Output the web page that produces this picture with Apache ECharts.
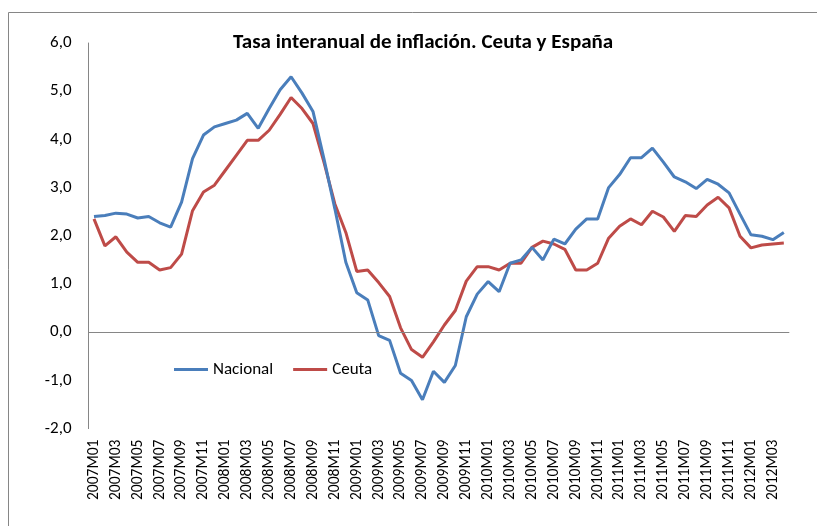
<!DOCTYPE html>
<html>
<head>
<meta charset="utf-8">
<script src="https://cdn.jsdelivr.net/npm/echarts@6/dist/echarts.min.js"></script>
<style>
  html, body { margin: 0; padding: 0; background: #fff; }
  #chart { width: 817px; height: 526px; }
</style>
</head>
<body>
<div id="chart"></div>
<script>
// ========================================
// DATA
// ========================================

var months = [
  '2007M01', '2007M02', '2007M03', '2007M04', '2007M05', '2007M06', '2007M07', '2007M08', '2007M09', '2007M10', '2007M11', '2007M12',
  '2008M01', '2008M02', '2008M03', '2008M04', '2008M05', '2008M06', '2008M07', '2008M08', '2008M09', '2008M10', '2008M11', '2008M12',
  '2009M01', '2009M02', '2009M03', '2009M04', '2009M05', '2009M06', '2009M07', '2009M08', '2009M09', '2009M10', '2009M11', '2009M12',
  '2010M01', '2010M02', '2010M03', '2010M04', '2010M05', '2010M06', '2010M07', '2010M08', '2010M09', '2010M10', '2010M11', '2010M12',
  '2011M01', '2011M02', '2011M03', '2011M04', '2011M05', '2011M06', '2011M07', '2011M08', '2011M09', '2011M10', '2011M11', '2011M12',
  '2012M01', '2012M02', '2012M03', '2012M04'
];

var nacional = [
  2.40, 2.42, 2.47, 2.45, 2.37, 2.40, 2.27, 2.18, 2.70, 3.60, 4.09, 4.26,
  4.33, 4.40, 4.54, 4.23, 4.64, 5.03, 5.30, 4.96, 4.58, 3.60, 2.56, 1.45,
  0.82, 0.67, -0.07, -0.17, -0.85, -1.0, -1.4, -0.81, -1.04, -0.69, 0.32, 0.79,
  1.05, 0.84, 1.43, 1.50, 1.76, 1.50, 1.93, 1.83, 2.14, 2.35, 2.35, 3.0,
  3.27, 3.62, 3.62, 3.82, 3.53, 3.22, 3.12, 2.98, 3.17, 3.07, 2.89, 2.45,
  2.02, 1.99, 1.92, 2.07
];

var ceuta = [
  2.35, 1.79, 1.98, 1.66, 1.45, 1.45, 1.29, 1.34, 1.62, 2.52, 2.91, 3.05,
  3.36, 3.67, 3.98, 3.98, 4.19, 4.52, 4.87, 4.64, 4.33, 3.53, 2.66, 2.07,
  1.26, 1.29, 1.03, 0.74, 0.09, -0.36, -0.52, -0.20, 0.15, 0.45, 1.06, 1.36,
  1.36, 1.29, 1.43, 1.43, 1.76, 1.89, 1.83, 1.72, 1.29, 1.29, 1.43, 1.95,
  2.20, 2.35, 2.23, 2.51, 2.39, 2.09, 2.42, 2.40, 2.64, 2.80, 2.58, 1.99,
  1.75, 1.81, 1.83, 1.85
];

var yTicks = { min: -2, max: 6, step: 1 };

// ========================================
// CHART
// ========================================

var FONT = 'Carlito, Lato, "Open Sans", sans-serif';
var AXIS_GRAY = '#868686';

function commaDecimal(v) {
  return v.toFixed(1).replace('.', ',');
}

var chart = echarts.init(document.getElementById('chart'), null, { renderer: 'canvas' });

chart.setOption({
  animation: false,
  backgroundColor: '#fff',
  title: {
    text: 'Tasa interanual de inflación. Ceuta y España',
    left: 228,
    top: 27,
    textStyle: { fontFamily: FONT, fontSize: 21, fontWeight: 'bold', color: '#000' }
  },
  legend: {
    left: 169,
    top: 356,
    icon: 'rect',
    itemWidth: 34,
    itemHeight: 3,
    itemGap: 20,
    textStyle: { fontFamily: FONT, fontSize: 17, color: '#000' },
    data: ['Nacional', 'Ceuta']
  },
  grid: { left: 88.5, right: 27.7, top: 43, bottom: 97.4, containLabel: false },
  xAxis: {
    type: 'category',
    data: months,
    boundaryGap: true,
    axisLine: { show: false },
    axisTick: { show: false },
    axisLabel: {
      interval: 1,
      rotate: 90,
      margin: 11,
      fontFamily: FONT,
      fontSize: 15.5,
      color: '#000'
    },
    splitLine: { show: false }
  },
  yAxis: {
    type: 'value',
    min: yTicks.min,
    max: yTicks.max,
    interval: yTicks.step,
    axisLine: { show: true, lineStyle: { color: AXIS_GRAY, width: 1 } },
    axisTick: { show: false },
    splitLine: { show: false },
    axisLabel: {
      margin: 17,
      fontFamily: FONT,
      fontSize: 17,
      color: '#000',
      formatter: commaDecimal
    }
  },
  series: [
    {
      name: 'Nacional',
      type: 'line',
      data: nacional,
      symbol: 'none',
      itemStyle: { color: '#4A7EBB' },
      lineStyle: { color: '#4A7EBB', width: 3 },
      z: 3,
      markLine: {
        silent: true,
        symbol: 'none',
        label: { show: false },
        lineStyle: { color: AXIS_GRAY, width: 1, type: 'solid' },
        data: [{ yAxis: 0 }]
      }
    },
    {
      name: 'Ceuta',
      type: 'line',
      data: ceuta,
      symbol: 'none',
      itemStyle: { color: '#BE4B48' },
      lineStyle: { color: '#BE4B48', width: 3 },
      z: 2
    }
  ],
  graphic: [{
    type: 'polyline',
    silent: true,
    shape: { points: [[8.5, 526], [8.5, 12.5], [817, 12.5]] },
    style: { stroke: AXIS_GRAY, lineWidth: 1, fill: null }
  }]
});
</script>
</body>
</html>
